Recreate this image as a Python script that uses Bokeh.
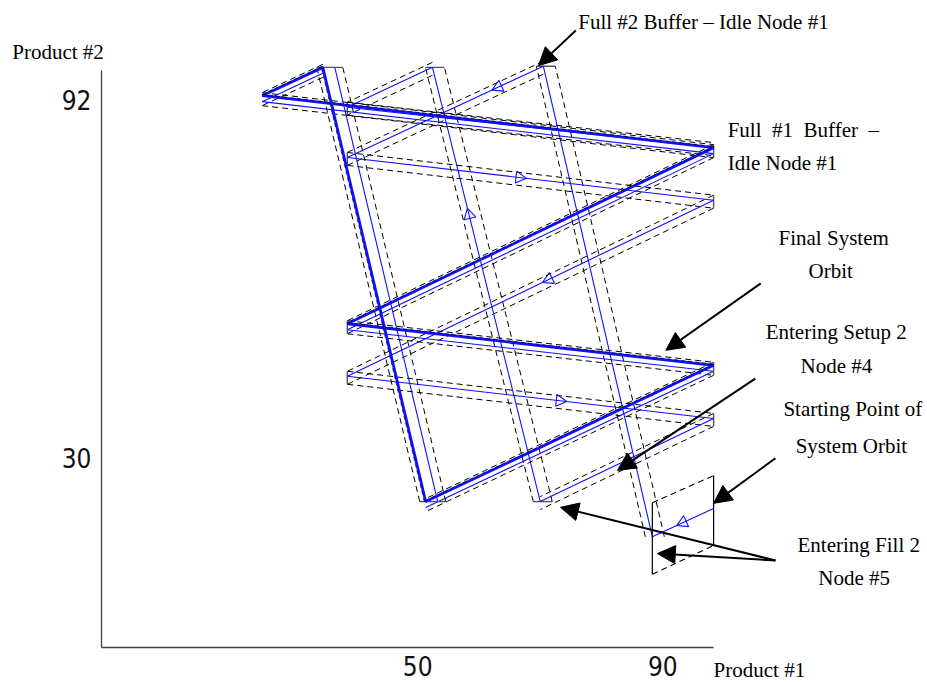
import math
from bokeh.plotting import figure
from bokeh.models import Range1d, FixedTicker, Label, Arrow, NormalHead
from bokeh.core.properties import value
from bokeh.embed import file_html
from bokeh.resources import INLINE

# ---- data (Product #1, Product #2) ----
# final periodic system orbit (closed)
orbit_p1 = [24.6, 98.3, 38.5, 98.3, 51.3, 34.5, 24.6]
orbit_p2 = [92.8, 83.8, 53.3, 46.1, 22.5, 97.7, 92.8]

# transient from the starting point until it joins the orbit
trans_p1 = [98.3, 88.3, 70.5, 38.5, 98.3, 38.5, 98.3, 70.0, 52.4, 38.5, 98.3]
trans_p2 = [21.3, 16.4, 97.9, 82.1, 74.7, 44.2, 36.9, 22.5, 97.7, 90.8, 83.8]

# fill region around the starting point (corners in order)
box_p1 = [88.3, 98.3, 98.3, 88.3]
box_p2 = [22.3, 27.0, 14.9, 9.9]

# direction markers on the transient: segment index and position along it
marker_seg = [0, 2, 3, 4, 5, 7]
marker_pos = [0.5, 0.23, 0.47, 0.45, 0.58, 0.66]

x_ticks = [50, 90]
y_ticks = [30, 92]
x_axis_end = 98.3
y_axis_end = 97.2

# ---- figure ----
X_RANGE = (-1.63, 133.22)
Y_RANGE = (-2.77, 109.28)
LEFT, BOTTOM = 101, 35
FRAME_W, FRAME_H = 927 - LEFT, 682 - BOTTOM
SX = FRAME_W / (X_RANGE[1] - X_RANGE[0])   # pixels per unit
SY = FRAME_H / (Y_RANGE[1] - Y_RANGE[0])

p = figure(width=927, height=682, x_range=Range1d(*X_RANGE), y_range=Range1d(*Y_RANGE),
           output_backend="svg", toolbar_location=None, title=None,
           min_border_left=LEFT, min_border_right=0,
           min_border_top=0, min_border_bottom=BOTTOM)
p.grid.visible = False
p.outline_line_color = None
p.background_fill_color = "white"
p.border_fill_color = "white"

TICK_FONT = ("Liberation Sans Narrow, DejaVu Sans Condensed, Roboto Condensed, "
             "DejaVu Sans, sans-serif")
for ax, ticks in ((p.xaxis[0], x_ticks), (p.yaxis[0], y_ticks)):
    ax.ticker = FixedTicker(ticks=ticks)
    ax.major_tick_line_color = None
    ax.minor_tick_line_color = None
    ax.axis_line_color = "#444444"
    ax.axis_line_width = 1.3
    ax.major_label_text_font = TICK_FONT
    ax.major_label_text_font_size = "26px"
    ax.major_label_text_color = "#111111"
p.xaxis.major_label_standoff = 2
p.yaxis.major_label_standoff = 4
p.xaxis.bounds = (X_RANGE[0], x_axis_end)
p.yaxis.bounds = (Y_RANGE[0], y_axis_end)


def steep(x0, y0, x1, y1):
    return abs((y1 - y0) * SY) > abs((x1 - x0) * SX)


def shift(x0, y0, x1, y1, d):
    """Offset of d screen pixels: sideways for steep runs, downward for flat runs."""
    if steep(x0, y0, x1, y1):
        return d / SX, 0.0
    return 0.0, -d / SY


def tube(xs, ys, flat_offs, steep_offs):
    out_x, out_y = [], []
    for i in range(len(xs) - 1):
        x0, y0, x1, y1 = xs[i], ys[i], xs[i + 1], ys[i + 1]
        offs = steep_offs if steep(x0, y0, x1, y1) else flat_offs
        for d in offs:
            dx, dy = shift(x0, y0, x1, y1, d)
            out_x.append([x0 + dx, x1 + dx])
            out_y.append([y0 + dy, y1 + dy])
    return out_x, out_y


def caps(xs, ys, flat_span, steep_span):
    out_x, out_y = [], []
    for i in range(1, len(xs) - 1):
        a = steep(xs[i - 1], ys[i - 1], xs[i], ys[i])
        b = steep(xs[i], ys[i], xs[i + 1], ys[i + 1])
        if a or b:
            out_x.append([xs[i] + steep_span[0] / SX, xs[i] + steep_span[1] / SX])
            out_y.append([ys[i], ys[i]])
        else:
            out_x.append([xs[i], xs[i]])
            out_y.append([ys[i] - flat_span[0] / SY, ys[i] - flat_span[1] / SY])
    return out_x, out_y


DASH = "6 4"
BLUE = "#1010ff"

# transient tube (first leg inside the fill region is drawn plainly)
tx, ty = tube(trans_p1[1:], trans_p2[1:], [-5, 8], [-7, 12])
p.multi_line(tx, ty, line_color="black", line_width=1, line_dash=DASH)
cx, cy = caps(trans_p1[1:], trans_p2[1:], [-5, 8], [-7, 12])
p.multi_line(cx, cy, line_color="#555555", line_width=1.4)
p.line(trans_p1, trans_p2, line_color=BLUE, line_width=1.1)

# orbit tube
ox, oy = tube(orbit_p1, orbit_p2, [-3, 10], [-6, 20])
p.multi_line(ox, oy, line_color="black", line_width=1, line_dash=DASH)
bx, by = tube(orbit_p1, orbit_p2, [6], [12])
p.multi_line(bx, by, line_color=BLUE, line_width=1.1)
kx, ky = caps(orbit_p1, orbit_p2, [-3, 10], [-6, 20])
p.multi_line(kx, ky, line_color="#555555", line_width=1.4)
p.line(orbit_p1, orbit_p2, line_color=BLUE, line_width=2.8)
dx_, dy_ = tube(orbit_p1, orbit_p2, [-1.2], [-1.5])
p.multi_line(dx_, dy_, line_color="black", line_width=0.8, line_dash="4 3", line_alpha=0.8)

# fill region around the starting point
p.multi_line([[box_p1[0], box_p1[3]], [box_p1[1], box_p1[2]]],
             [[box_p2[0], box_p2[3]], [box_p2[1], box_p2[2]]],
             line_color="black", line_width=1.2)
p.multi_line([[box_p1[0], box_p1[1]], [box_p1[3], box_p1[2]]],
             [[box_p2[0], box_p2[1]], [box_p2[3], box_p2[2]]],
             line_color="black", line_width=1.1, line_dash=DASH)

# direction markers
mx, my, ma = [], [], []
for s, t in zip(marker_seg, marker_pos):
    x0, y0, x1, y1 = trans_p1[s], trans_p2[s], trans_p1[s + 1], trans_p2[s + 1]
    mx.append(x0 + t * (x1 - x0))
    my.append(y0 + t * (y1 - y0))
    ma.append(math.atan2((y1 - y0) * SY, (x1 - x0) * SX) - math.pi / 2)
p.scatter(mx, my, marker="triangle", size=12, angle=ma, fill_color=None,
          line_color=BLUE, line_width=1.1)

# ---- texts and callouts ----
FONT = "Liberation Serif"

# axis titles sit outside the plotting area
p.text(x=[-16.2, 98.3], y=[100.3, -6.7], text=["Product #2", "Product #1"],
       text_font=value(FONT), text_font_size="21px", text_baseline="middle",
       text_align="left", text_color="black", level="overlay")


def label(x, y, text, align="left"):
    p.add_layout(Label(x=x, y=y, text=text, text_font=FONT, text_font_size="21px",
                       text_baseline="middle", text_align=align, text_color="black"))


label(76.2, 105.5, "Full #2 Buffer \u2013 Idle Node #1")
label(100.6, 86.8, "Full\u00a0 #1\u00a0 Buffer\u00a0 \u2013")
label(100.6, 81.1, "Idle Node #1")
label(108.9, 68.1, "Final System")
label(113.8, 62.5, "Orbit")
label(106.8, 51.8, "Entering Setup 2")
label(112.5, 45.9, "Node #4")
label(109.7, 38.5, "Starting Point of")
label(111.7, 32.2, "System Orbit")
label(112.0, 14.9, "Entering Fill 2")
label(115.4, 9.2, "Node #5")

callouts = [
    (75.8, 104.1, 69.7, 98.0),
    (106.0, 60.3, 90.5, 48.7),
    (105.1, 43.8, 82.6, 27.9),
    (108.4, 30.0, 98.3, 22.2),
    (108.4, 12.3, 73.3, 21.5),
    (108.4, 12.3, 89.1, 13.5),
]
for xs0, ys0, xe, ye in callouts:
    p.add_layout(Arrow(x_start=xs0, y_start=ys0, x_end=xe, y_end=ye, line_width=2,
                       line_color="black",
                       end=NormalHead(size=18, fill_color="black", line_color="black")))

open("out.html", "w").write(file_html(p, INLINE))
